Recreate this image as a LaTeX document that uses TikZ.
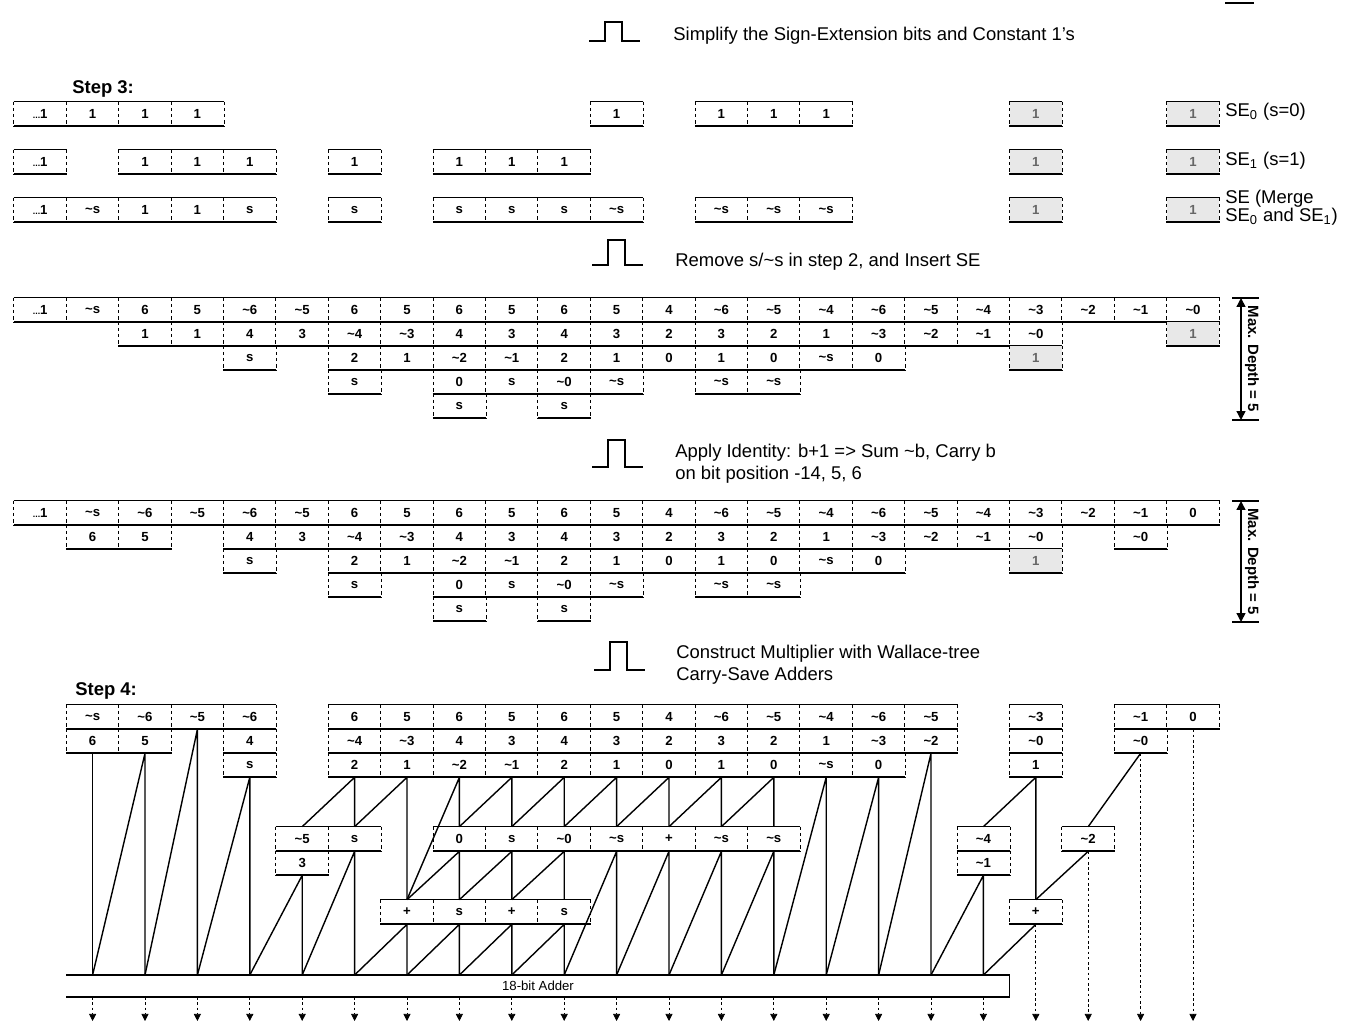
\documentclass[tikz,border=0pt]{standalone}
\usepackage{fontspec}
\setmainfont{Liberation Sans}
\usetikzlibrary{arrows.meta}
\newcommand{\nt}{\textasciitilde}
\newcommand{\msb}{{\fontsize{5}{6}\selectfont...}1}
\newcommand{\bitfont}{\fontsize{7.5}{8}\selectfont\bfseries}
\newcommand{\capfont}{\fontsize{10.5}{12.5}\selectfont}
\tikzset{
  bit/.style      = {minimum width=1.048cm,minimum height=0.48cm,inner sep=0pt,font=\bitfont},
  sebit/.style    = {bit,fill=gray!18,text=black!60},
  rowtop/.style   = {line width=0.5pt},
  rowbot/.style   = {line width=1.1pt},
  rowsep/.style   = {line width=0.4pt,dash pattern=on 2pt off 1.5pt},
  wire/.style     = {line width=0.8pt},
  outarr/.style   = {-{Triangle[length=4pt,width=4pt]},line width=0.4pt,dash pattern=on 1.5pt off 1.5pt},
  pulse/.style    = {line width=0.6pt},
  caption/.style  = {anchor=west,font=\capfont,align=left,inner sep=0pt},
  steplab/.style  = {anchor=west,font=\fontsize{10.5}{12}\selectfont\bfseries,inner sep=0pt},
  adder/.style    = {minimum width=18.864cm,minimum height=0.44cm,inner sep=0pt,font=\fontsize{7.5}{9}\selectfont},
  depthbar/.style = {{Triangle[length=5pt,width=5pt]}-{Triangle[length=5pt,width=5pt]},line width=0.8pt}
}
% cells #4..#5 of one row at height #3, labels #6, named #2-<column>
\newcommand{\bitrow}[6][bit]{%
  \foreach \lab [count=\c from #4] in {#6}
    \node[#1] (#2-\c) at ({40.2+52.4*\c},#3) {\lab};
  \draw[rowtop] (#2-#4.north west) -- (#2-#5.north east);
  \draw[rowbot] (#2-#4.south west) -- (#2-#5.south east);
  \foreach \c in {#4,...,#5}
    \draw[rowsep] (#2-\c.north west) -- (#2-\c.south west);
  \draw[rowsep] (#2-#5.north east) -- (#2-#5.south east);
}
\newcommand{\stepmark}[3]{%
  \draw[pulse] (#1,#2) -| ({#1+16},#3) -| ({#1+33},#2) -- ({#1+51},#2);
}
\newcommand{\depthmark}[3]{%
  \coordinate (#1t) at (1241,#2);
  \coordinate (#1b) at (1241,#3);
  \draw[rowbot] (1232,#2) -- (1259,#2);
  \draw[rowbot] (1232,#3) -- (1259,#3);
  \draw[depthbar] (#1t) -- (#1b);
  \node[rotate=-90,font=\fontsize{8.5}{10}\selectfont\bfseries,inner sep=0pt] (#1lab) at (1252,{(#2+#3)/2}) {Max. Depth = 5};
}

\begin{document}
\begin{tikzpicture}[x=0.02cm,y=-0.02cm]
  \useasboundingbox (0,0) rectangle (1351,1023);
  \draw[rowbot] (1225,3) -- (1254,3);

  % step 3
  \stepmark{589}{41}{22}
  \node[caption] (cap1) at (673,36) {Simplify the Sign-Extension bits and Constant 1's};
  \node[steplab] (step3) at (72,89) {Step 3:};
  \bitrow{A1}{114}{0}{3}{\msb,1,1,1}
  \bitrow{A1}{114}{11}{11}{1}
  \bitrow{A1}{114}{13}{15}{1,1,1}
  \bitrow[sebit]{A1}{114}{19}{19}{1}
  \bitrow[sebit]{A1}{114}{22}{22}{1}
  \bitrow{A2}{162}{0}{0}{\msb}
  \bitrow{A2}{162}{2}{4}{1,1,1}
  \bitrow{A2}{162}{6}{6}{1}
  \bitrow{A2}{162}{8}{10}{1,1,1}
  \bitrow[sebit]{A2}{162}{19}{19}{1}
  \bitrow[sebit]{A2}{162}{22}{22}{1}
  \bitrow{A3}{210}{0}{4}{\msb,\nt s,1,1,s}
  \bitrow{A3}{210}{6}{6}{s}
  \bitrow{A3}{210}{8}{11}{s,s,s,\nt s}
  \bitrow{A3}{210}{13}{15}{\nt s,\nt s,\nt s}
  \bitrow[sebit]{A3}{210}{19}{19}{1}
  \bitrow[sebit]{A3}{210}{22}{22}{1}
  \node[caption] (se0) at (1225,112) {SE\textsubscript{0} (s=0)};
  \node[caption] (se1) at (1225,161) {SE\textsubscript{1} (s=1)};
  \node[caption,font=\fontsize{10.5}{10.5}\selectfont] (se) at (1225,208) {SE (Merge\\SE\textsubscript{0} and SE\textsubscript{1})};

  % remove s/~s
  \stepmark{592}{265}{240}
  \node[caption] (cap2) at (675,262) {Remove s/\nt s in step 2, and Insert SE};
  \bitrow{B1}{310}{0}{22}{\msb,\nt s,6,5,\nt 6,\nt 5,6,5,6,5,6,5,4,\nt 6,\nt 5,\nt 4,\nt 6,\nt 5,\nt 4,\nt 3,\nt 2,\nt 1,\nt 0}
  \bitrow{B2}{334}{2}{19}{1,1,4,3,\nt 4,\nt 3,4,3,4,3,2,3,2,1,\nt 3,\nt 2,\nt 1,\nt 0}
  \bitrow[sebit]{B2}{334}{22}{22}{1}
  \bitrow{B3}{358}{4}{4}{s}
  \bitrow{B3}{358}{6}{16}{2,1,\nt 2,\nt 1,2,1,0,1,0,\nt s,0}
  \bitrow[sebit]{B3}{358}{19}{19}{1}
  \bitrow{B4}{382}{6}{6}{s}
  \bitrow{B4}{382}{8}{11}{0,s,\nt 0,\nt s}
  \bitrow{B4}{382}{13}{14}{\nt s,\nt s}
  \bitrow{B5}{406}{8}{8}{s}
  \bitrow{B5}{406}{10}{10}{s}
  \depthmark{dA}{298}{420}

  % identity b+1
  \stepmark{592}{467}{440}
  \node[caption] (cap3) at (675,464) {Apply Identity: b+1 => Sum \nt b, Carry b\\on bit position -14, 5, 6};
  \bitrow{C1}{513}{0}{22}{\msb,\nt s,\nt 6,\nt 5,\nt 6,\nt 5,6,5,6,5,6,5,4,\nt 6,\nt 5,\nt 4,\nt 6,\nt 5,\nt 4,\nt 3,\nt 2,\nt 1,0}
  \bitrow{C2}{537}{1}{2}{6,5}
  \bitrow{C2}{537}{4}{19}{4,3,\nt 4,\nt 3,4,3,4,3,2,3,2,1,\nt 3,\nt 2,\nt 1,\nt 0}
  \bitrow{C2}{537}{21}{21}{\nt 0}
  \bitrow{C3}{561}{4}{4}{s}
  \bitrow{C3}{561}{6}{16}{2,1,\nt 2,\nt 1,2,1,0,1,0,\nt s,0}
  \bitrow[sebit]{C3}{561}{19}{19}{1}
  \bitrow{C4}{585}{6}{6}{s}
  \bitrow{C4}{585}{8}{11}{0,s,\nt 0,\nt s}
  \bitrow{C4}{585}{13}{14}{\nt s,\nt s}
  \bitrow{C5}{609}{8}{8}{s}
  \bitrow{C5}{609}{10}{10}{s}
  \depthmark{dB}{501}{622}

  % step 4
  \stepmark{594}{670}{642}
  \node[caption] (cap4) at (676,665) {Construct Multiplier with Wallace-tree\\Carry-Save Adders};
  \node[steplab] (step4) at (75,691) {Step 4:};
  \bitrow{D1}{717}{1}{4}{\nt s,\nt 6,\nt 5,\nt 6}
  \bitrow{D1}{717}{6}{17}{6,5,6,5,6,5,4,\nt 6,\nt 5,\nt 4,\nt 6,\nt 5}
  \bitrow{D1}{717}{19}{19}{\nt 3}
  \bitrow{D1}{717}{21}{22}{\nt 1,0}
  \bitrow{D2}{741}{1}{2}{6,5}
  \bitrow{D2}{741}{4}{4}{4}
  \bitrow{D2}{741}{6}{17}{\nt 4,\nt 3,4,3,4,3,2,3,2,1,\nt 3,\nt 2}
  \bitrow{D2}{741}{19}{19}{\nt 0}
  \bitrow{D2}{741}{21}{21}{\nt 0}
  \bitrow{D3}{765}{4}{4}{s}
  \bitrow{D3}{765}{6}{16}{2,1,\nt 2,\nt 1,2,1,0,1,0,\nt s,0}
  \bitrow{D3}{765}{19}{19}{1}
  \bitrow{E}{839}{5}{6}{\nt 5,s}
  \bitrow{E}{839}{8}{14}{0,s,\nt 0,\nt s,+,\nt s,\nt s}
  \bitrow{E}{839}{18}{18}{\nt 4}
  \bitrow{E}{839}{20}{20}{\nt 2}
  \bitrow{Eb}{863}{5}{5}{3}
  \bitrow{Eb}{863}{18}{18}{\nt 1}
  \bitrow{F}{912}{7}{10}{+,s,+,s}
  \bitrow{F}{912}{19}{19}{+}

  \node[adder] (adder) at (538,986) {18-bit Adder};
  \draw[rowbot] (adder.north west) -- (adder.north east);
  \draw[rowbot] (adder.south west) -- (adder.south east);
  \draw[rowtop] (adder.north east) -- (adder.south east);
  \foreach \c in {1,...,18}{
    \coordinate (add-\c) at ({40.2+52.4*\c},975);
    \coordinate (sum-\c) at ({40.2+52.4*\c},997);
  }
  \foreach \c in {1,...,22}
    \coordinate (out-\c) at ({40.2+52.4*\c},1021);

  % carry-save tree
  \draw[wire] (D3-6.south) -- (E-6.north) (D3-6.south) -- (E-5.north);
  \draw[wire] (D3-7.south) -- (F-7.north) (D3-7.south) -- (E-6.north);
  \draw[wire] (D3-8.south) -- (E-8.north) (D3-8.south) -- (F-7.north);
  \foreach \c [evaluate=\c as \p using int(\c-1)] in {9,...,14}
    \draw[wire] (D3-\c.south) -- (E-\c.north) (D3-\c.south) -- (E-\p.north);
  \foreach \c [evaluate=\c as \p using int(\c-1)] in {8,9,10}
    \draw[wire] (E-\c.south) -- (F-\c.north) (E-\c.south) -- (F-\p.north);
  \draw[wire] (D3-19.south) -- (F-19.north) (D3-19.south) -- (E-18.north);
  \draw[wire] (D2-21.south) -- (E-20.north);
  \draw[wire] (E-20.south) -- (F-19.north);

  % into the adder
  \draw[wire] (D2-1.south) -- (add-1);
  \draw[wire] (D2-2.south) -- (add-2) (D2-2.south) -- (add-1);
  \draw[wire] (D1-3.south) -- (add-3) (D1-3.south) -- (add-2);
  \draw[wire] (D3-4.south) -- (add-4) (D3-4.south) -- (add-3);
  \draw[wire] (Eb-5.south) -- (add-5) (Eb-5.south) -- (add-4);
  \draw[wire] (E-6.south) -- (add-6) (E-6.south) -- (add-5);
  \foreach \c [evaluate=\c as \p using int(\c-1)] in {7,...,10}
    \draw[wire] (F-\c.south) -- (add-\c) (F-\c.south) -- (add-\p);
  \foreach \c [evaluate=\c as \p using int(\c-1)] in {11,...,14}
    \draw[wire] (E-\c.south) -- (add-\c) (E-\c.south) -- (add-\p);
  \foreach \c [evaluate=\c as \p using int(\c-1)] in {15,16}
    \draw[wire] (D3-\c.south) -- (add-\c) (D3-\c.south) -- (add-\p);
  \draw[wire] (D2-17.south) -- (add-17) (D2-17.south) -- (add-16);
  \draw[wire] (Eb-18.south) -- (add-18) (Eb-18.south) -- (add-17);
  \draw[wire] (F-19.south) -- (add-18);

  % results
  \foreach \c in {1,...,18}
    \draw[outarr] (sum-\c) -- (out-\c);
  \draw[outarr] (F-19.south) -- (out-19);
  \draw[outarr] (E-20.south) -- (out-20);
  \draw[outarr] (D2-21.south) -- (out-21);
  \draw[outarr] (D1-22.south) -- (out-22);
\end{tikzpicture}
\end{document}
